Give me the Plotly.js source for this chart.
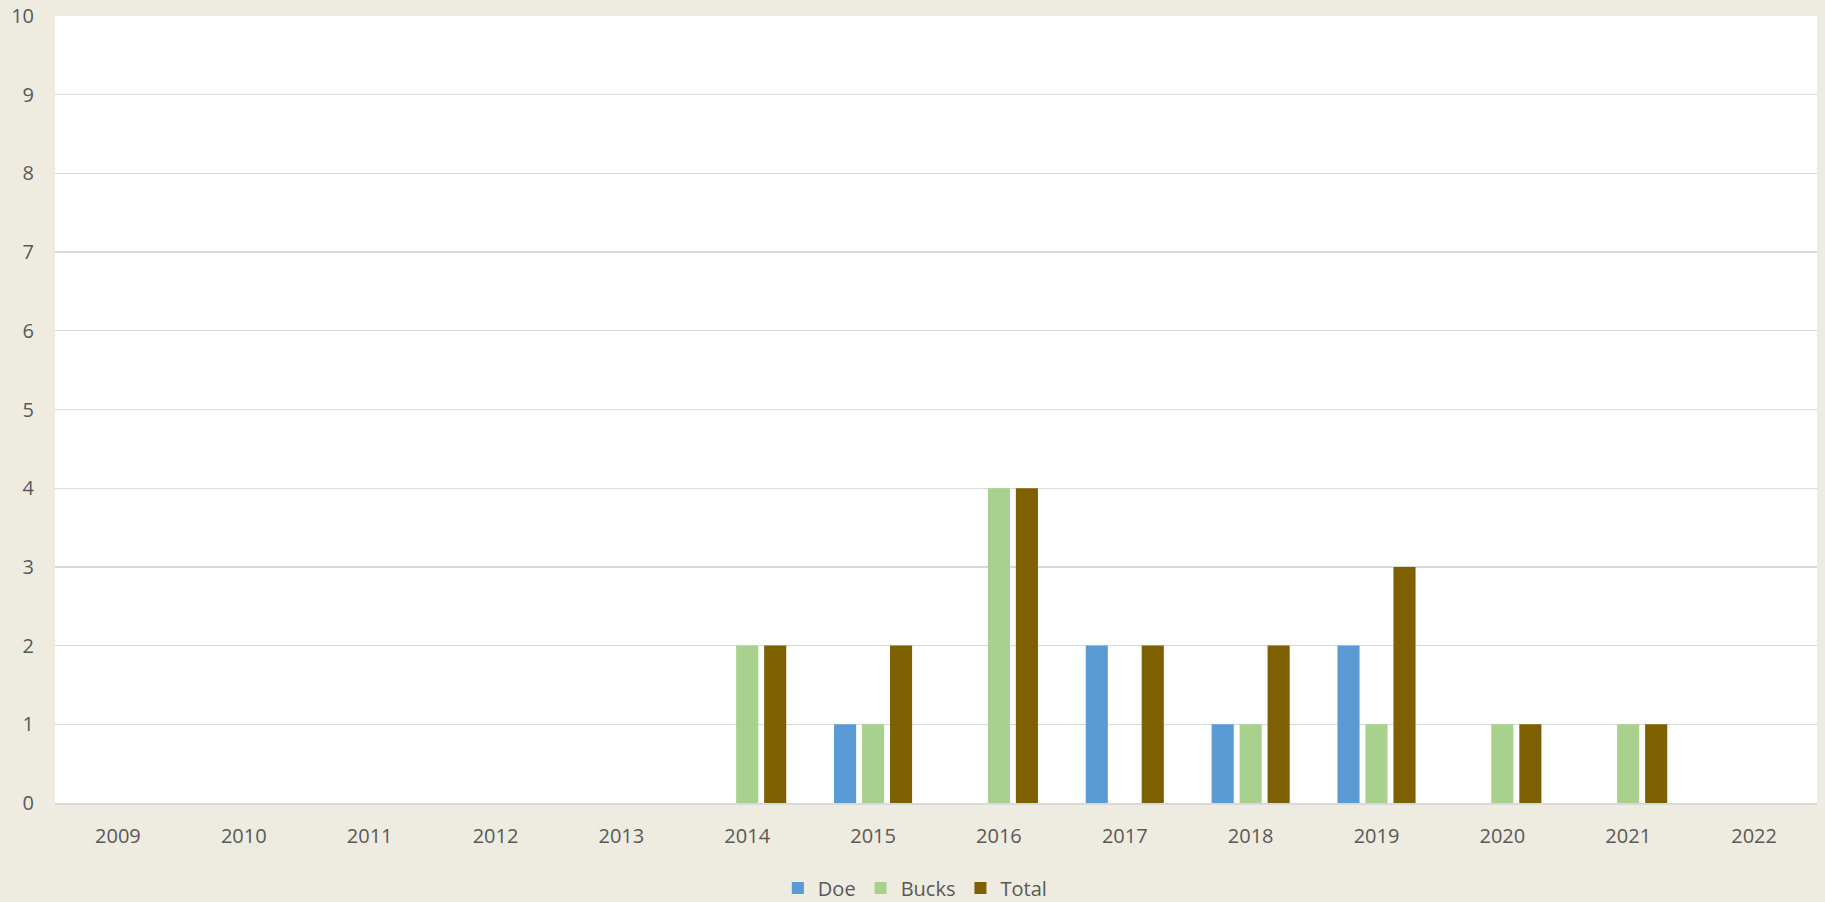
<!DOCTYPE html>
<html>
<head>
<meta charset="utf-8">
<script src="https://cdn.plot.ly/plotly-3.0.1.min.js"></script>
<style>html,body{margin:0;padding:0;background:#EEEBE0;}#chart{width:1825px;height:902px;}</style>
</head>
<body>
<div id="chart"></div>
<script>
var years = ['2009','2010','2011','2012','2013','2014','2015','2016','2017','2018','2019','2020','2021','2022'];
var doe   = [0,0,0,0,0,0,1,0,2,1,2,0,0,0];
var bucks = [0,0,0,0,0,2,1,4,0,1,1,1,1,0];
var total = [0,0,0,0,0,2,2,4,2,2,3,1,1,0];
var yTicks = [0,1,2,3,4,5,6,7,8,9,10];

var fontFam = 'Open Sans, sans-serif';
var data = [
  {type:'bar', name:'Doe', x:years, y:doe, marker:{color:'#5B9BD5'}},
  {type:'bar', name:'Bucks', x:years, y:bucks, marker:{color:'#A9D18E'}},
  {type:'bar', name:'Total', x:years, y:total, marker:{color:'#7F6000'}}
];
var layout = {
  width:1825, height:902,
  paper_bgcolor:'#EEEBE0', plot_bgcolor:'#FFFFFF',
  margin:{l:55, r:8, t:16, b:99, autoexpand:false},
  barmode:'group', bargap:0.333, bargroupgap:0.21,
  font:{family:fontFam, color:'#595959', size:20},
  xaxis:{type:'category', automargin:false, showgrid:false, showline:true, linecolor:'#D9D9D9', linewidth:1.5,
         ticks:'', ticklabelstandoff:14, tickfont:{size:20, color:'#595959'}},
  yaxis:{range:[0,10], automargin:false, tickvals:yTicks, ticktext:yTicks.map(String), showgrid:true, gridcolor:'#D9D9D9', gridwidth:1.3,
         zeroline:false, showline:false, ticks:'', ticklabelstandoff:20, tickfont:{size:20, color:'#595959'}},
  legend:{orientation:'h', x:0.488, xanchor:'center', y:-0.108, yanchor:'middle',
          font:{size:20, color:'#595959'}, bgcolor:'rgba(0,0,0,0)', itemwidth:30, traceorder:'normal'},
  showlegend:true
};
Plotly.newPlot('chart', data, layout, {displayModeBar:false, staticPlot:true});
</script>
</body>
</html>
